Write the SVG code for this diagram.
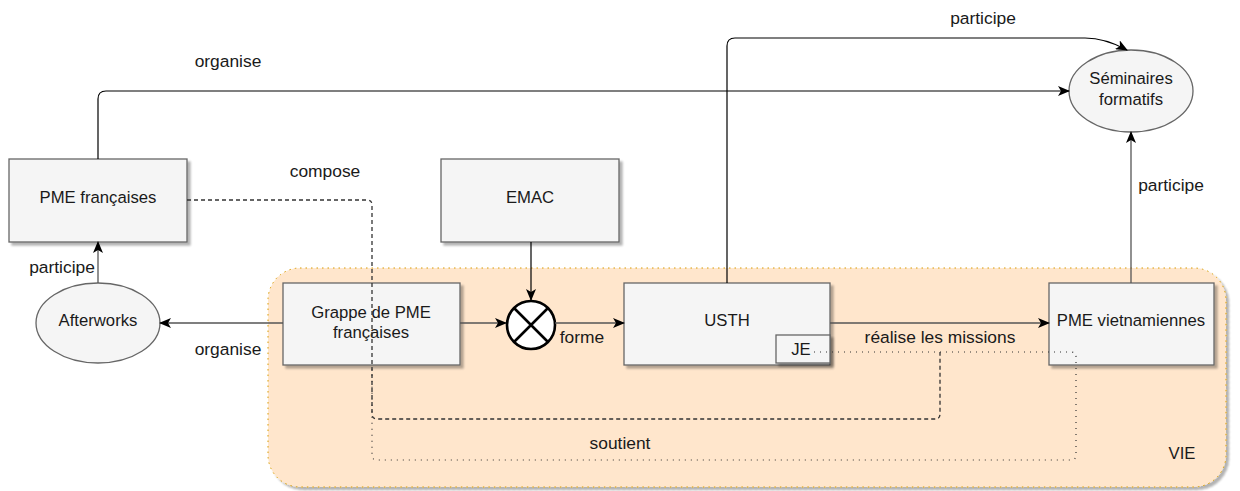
<svg xmlns="http://www.w3.org/2000/svg" width="1240" height="491" viewBox="0 0 1240 491">
<defs>
<filter id="sh" x="-5%" y="-5%" width="115%" height="120%">
<feGaussianBlur in="SourceAlpha" stdDeviation="0.8"/>
<feOffset dx="3" dy="3" result="b"/>
<feComponentTransfer><feFuncA type="linear" slope="0.3"/></feComponentTransfer>
<feMerge><feMergeNode/><feMergeNode in="SourceGraphic"/></feMerge>
</filter>
<marker id="ar" viewBox="0 0 12 10" refX="11" refY="5" markerWidth="12" markerHeight="10" markerUnits="userSpaceOnUse" orient="auto">
<path d="M0,0 L12,5 L0,10 L3,5 Z" fill="#000"/>
</marker>
</defs>
<style>
text{font-family:"Liberation Sans",Arial,sans-serif;fill:#1a1a1a;}
.n{font-size:16.7px;text-anchor:middle;}
.l{font-size:17.4px;text-anchor:middle;}
.box{fill:#f5f5f5;stroke:#666;stroke-width:1.3;}
.c{fill:none;stroke:#000;stroke-width:1.2;}
.g{fill:none;stroke:#555;stroke-width:1.3;}
</style>
<g id="vie">
<rect x="268" y="268" width="958" height="219" rx="32" fill="#ffe6cc" stroke="#d79b00" stroke-width="1" stroke-dasharray="1.5 4" filter="url(#sh)"/>
<text class="n" x="1182" y="459">VIE</text>
</g>
<g id="pme-fr"><rect class="box" x="9" y="159" width="178" height="83" filter="url(#sh)"/><text class="n" x="98" y="203">PME françaises</text></g>
<g id="emac"><rect class="box" x="441" y="159" width="178" height="83" filter="url(#sh)"/><text class="n" x="530" y="203">EMAC</text></g>
<g id="grappe"><rect class="box" x="283" y="283" width="177" height="82" filter="url(#sh)"/><text class="n" x="371" y="318">Grappe de PME</text><text class="n" x="371" y="338">françaises</text></g>
<g id="afterworks"><ellipse cx="98" cy="323" rx="62" ry="40" fill="#f5f5f5" stroke="#666" stroke-width="1.3"/><text class="n" x="98" y="326">Afterworks</text></g>
<g id="usth"><rect class="box" x="624" y="283" width="206" height="82" filter="url(#sh)"/><text class="n" x="727" y="326">USTH</text>
<g id="je"><rect class="box" x="776" y="335" width="54" height="28" filter="url(#sh)"/><text class="n" x="801" y="355">JE</text></g></g>
<g id="pme-vn"><rect class="box" x="1049" y="283" width="165" height="82" filter="url(#sh)"/><text class="n" x="1131" y="326">PME vietnamiennes</text></g>
<g id="seminaires"><ellipse cx="1131" cy="91" rx="62" ry="41" fill="#f5f5f5" stroke="#666" stroke-width="1.3"/><text class="n" x="1131" y="84">Séminaires</text><text class="n" x="1131" y="105">formatifs</text></g>
<g id="xor"><circle cx="531" cy="325" r="24" fill="#fff" stroke="#000" stroke-width="2.6"/><path d="M514,308 L548,342 M548,308 L514,342" stroke="#000" stroke-width="2.6"/></g>
<g id="connectors">
<path class="c" d="M98,159 L98,99 Q98,91 106,91 L1069,91" marker-end="url(#ar)"/>
<path class="c" d="M727,283 L727,46 Q727,38 735,38 L1085,38 Q1105,38 1127,50" marker-end="url(#ar)"/>
<path class="g" d="M1131,283 L1131,132" marker-end="url(#ar)"/>
<path class="g" d="M98,283 L98,242" marker-end="url(#ar)"/>
<path class="g" d="M283,323 L160,323" marker-end="url(#ar)"/>
<path class="c" d="M531,242 L531,300" marker-end="url(#ar)"/>
<path class="g" d="M460,323 L506,323" marker-end="url(#ar)"/>
<path class="g" d="M555,323 L624,323" marker-end="url(#ar)"/>
<path class="g" d="M830,323 L1049,323" marker-end="url(#ar)"/>
<path fill="none" stroke="#333" stroke-width="1.3" stroke-dasharray="4 3" d="M187,200 L367,200 Q372,200 372,205 L372,414 Q372,419 377,419 L935,419 Q940,419 940,414 L940,352"/>
<path fill="none" stroke="#333" stroke-width="1.2" stroke-dasharray="1 5" d="M814,352 L1071,352 Q1076,352 1076,357 L1076,455 Q1076,460 1071,460 L377,460 Q372,460 372,455 L372,365"/>
<text class="l" x="228" y="67">organise</text>
<text class="l" x="983" y="24">participe</text>
<text class="l" x="325" y="177">compose</text>
<text class="l" x="62" y="273">participe</text>
<text class="l" x="228" y="355">organise</text>
<text class="l" x="582" y="343">forme</text>
<text class="l" x="940" y="343">réalise les missions</text>
<text class="l" x="620" y="449">soutient</text>
<text class="l" x="1171" y="191">participe</text>
</g>
</svg>
